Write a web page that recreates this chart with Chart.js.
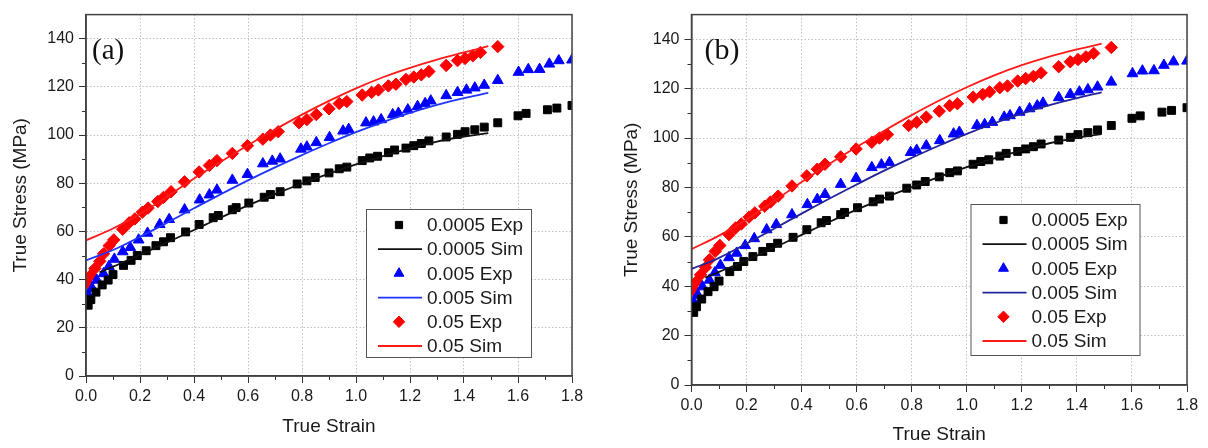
<!DOCTYPE html>
<html>
<head>
<meta charset="utf-8">
<script src="https://cdn.jsdelivr.net/npm/chart.js@4.4.0/dist/chart.umd.min.js"></script>
<style>
  body { margin: 0; background: #fff; }
  canvas { position: absolute; top: 0; }
  #chartA { left: 0; }
  #chartB { left: 604px; }
</style>
</head>
<body>
<canvas id="chartA" width="600" height="448"></canvas>
<canvas id="chartB" width="604" height="448"></canvas>
<script>
// Experimental points (same test data in both panels)
const strain0005Exp = [0.008, 0.018, 0.037, 0.06, 0.082, 0.10, 0.139, 0.167, 0.19, 0.223, 0.259, 0.287, 0.313, 0.369, 0.419, 0.471, 0.49, 0.542, 0.556, 0.603, 0.66, 0.683, 0.719, 0.782, 0.818, 0.849, 0.9, 0.938, 0.966, 1.023, 1.051, 1.08, 1.12, 1.143, 1.185, 1.214, 1.242, 1.27, 1.334, 1.376, 1.404, 1.44, 1.475, 1.525, 1.6, 1.63, 1.709, 1.744, 1.8];
const stress0005Exp = [29.4, 31.7, 34.8, 37.8, 39.8, 42.1, 45.9, 48, 50, 52, 54.1, 55.7, 57.4, 59.8, 62.9, 65.7, 66.6, 69, 69.9, 71.8, 74.2, 75.3, 76.5, 79.7, 81, 82.4, 84.3, 86, 86.7, 89.4, 90.5, 91.2, 92.7, 93.8, 94.6, 95.6, 96.5, 97.6, 99.2, 100.3, 101.4, 102.2, 103.3, 105.1, 108, 109, 110.5, 111.2, 112.3];

const strain005Exp = [0.008, 0.023, 0.04, 0.065, 0.085, 0.105, 0.136, 0.164, 0.195, 0.228, 0.273, 0.308, 0.365, 0.421, 0.457, 0.485, 0.542, 0.598, 0.655, 0.69, 0.719, 0.796, 0.818, 0.853, 0.902, 0.952, 0.973, 1.037, 1.065, 1.093, 1.136, 1.157, 1.192, 1.228, 1.256, 1.277, 1.334, 1.376, 1.409, 1.44, 1.475, 1.525, 1.602, 1.638, 1.68, 1.716, 1.751, 1.8];
const stress005Exp = [33.7, 36.4, 39.8, 42.5, 45.5, 48.5, 51.6, 53.4, 56.5, 59.3, 62.9, 65, 69, 73.1, 75.2, 77.2, 81.3, 83.7, 88.1, 89.2, 90.1, 94.2, 95.1, 96.9, 99, 101.7, 102.4, 105.1, 105.5, 106.4, 108.5, 109.1, 110.5, 111.9, 113.1, 114.2, 116.4, 117.7, 118.7, 119.6, 120.7, 122.7, 126.1, 127.2, 127.3, 129.5, 130.9, 131.2];

const strain05Exp = [0.008, 0.018, 0.033, 0.051, 0.065, 0.086, 0.103, 0.136, 0.16, 0.181, 0.209, 0.23, 0.266, 0.287, 0.315, 0.365, 0.419, 0.457, 0.485, 0.542, 0.598, 0.655, 0.683, 0.712, 0.789, 0.818, 0.853, 0.9, 0.938, 0.966, 1.023, 1.058, 1.083, 1.12, 1.148, 1.185, 1.214, 1.242, 1.27, 1.334, 1.376, 1.404, 1.433, 1.461, 1.525];
const stress05Exp = [38.5, 41.9, 44.6, 47.6, 50.7, 54.1, 56.5, 60.9, 63.6, 65.2, 68, 69.7, 72.4, 74.1, 76.5, 80.6, 84.7, 87.4, 89.4, 92.4, 95.6, 98.3, 100, 101.4, 105.1, 106.4, 108.5, 110.9, 113.1, 113.9, 116.6, 117.7, 118.7, 120.4, 121.1, 123.1, 124.1, 125, 126.4, 128.9, 130.9, 131.8, 132.9, 134.3, 136.7];

// Simulated curves
const simStrain = [0, 0.1, 0.2, 0.3, 0.4, 0.5, 0.6, 0.7, 0.8, 0.9, 1.0, 1.1, 1.2, 1.3, 1.4, 1.49];
const simStrain0005 = [0.05, 0.1, 0.2, 0.3, 0.4, 0.5, 0.6, 0.7, 0.8, 0.9, 1.0, 1.1, 1.2, 1.3, 1.4, 1.49];

const simA0005 = [43, 45.4, 50.3, 55.4, 60.6, 65.8, 70.8, 75.5, 79.9, 84, 87.8, 91.3, 94.5, 97.3, 99.4, 100.8];
const simA005 = [48, 52.3, 57.8, 63.6, 69.6, 75.5, 81.2, 86.6, 91.7, 96.6, 101.2, 105.4, 109.2, 112.5, 115.3, 117.5];
const simA05 = [56.3, 61.2, 67.3, 74.4, 82, 89, 95.8, 102.3, 108.5, 114.2, 119.4, 124, 127.9, 131.3, 134.3, 136.9];

const simB0005 = [43.5, 45.8, 50.5, 55.6, 60.8, 66, 71, 75.7, 80.1, 84.3, 88.2, 91.8, 95, 97.9, 100.1, 101.6];
const simB005 = [47, 51.5, 57.3, 63.3, 69.4, 75.4, 81.2, 86.8, 92, 97, 101.7, 106, 109.9, 113.3, 116.2, 118.5];
const simB05 = [55, 60.5, 67, 74.5, 82.2, 89.5, 96.4, 103, 109.3, 115.2, 120.6, 125.4, 129.5, 133, 135.9, 138.2];

// Axis ticks
const xTicks = [0, 0.2, 0.4, 0.6, 0.8, 1.0, 1.2, 1.4, 1.6, 1.8];
const xMinor = [0.1, 0.3, 0.5, 0.7, 0.9, 1.1, 1.3, 1.5, 1.7];
const yTicks = [0, 20, 40, 60, 80, 100, 120, 140];
const yMinor = [10, 30, 50, 70, 90, 110, 130];

const FONT = '"Liberation Sans", Arial, sans-serif';
const TEXT = '#1a1a1a';

function pts(xs, ys) {
    return xs.map((x, i) => ({ x: x, y: ys[i] }));
}

// minor ticks, frame, panel tag and legend
const decorPlugin = {
    id: 'decor',
    afterDraw(chart, args, opts) {
        const { ctx, chartArea: ca, scales: { x, y } } = chart;
        ctx.save();
        ctx.strokeStyle = '#333';
        ctx.lineWidth = 1;
        ctx.beginPath();
        xMinor.forEach(v => {
            const px = Math.round(x.getPixelForValue(v)) + 0.5;
            ctx.moveTo(px, ca.bottom);
            ctx.lineTo(px, ca.bottom + 4);
        });
        yMinor.forEach(v => {
            const py = Math.round(y.getPixelForValue(v)) + 0.5;
            ctx.moveTo(ca.left, py);
            ctx.lineTo(ca.left - 4, py);
        });
        ctx.stroke();

        ctx.strokeStyle = '#444';
        ctx.lineWidth = 1.5;
        ctx.strokeRect(ca.left, ca.top, ca.width, ca.height);

        // (a) / (b)
        ctx.fillStyle = '#111';
        ctx.font = opts.tagSize + 'px "Liberation Serif", "Times New Roman", serif';
        ctx.textBaseline = 'middle';
        ctx.textAlign = 'left';
        ctx.fillText(opts.tag, ca.left + opts.tagDx, opts.tagY);

        // legend box
        const bx = ca.left + opts.legendDx, by = opts.legendY;
        ctx.fillStyle = '#fff';
        ctx.fillRect(bx, by, opts.legendW, opts.legendH);
        ctx.strokeStyle = '#555';
        ctx.lineWidth = 1;
        ctx.strokeRect(bx + 0.5, by + 0.5, opts.legendW, opts.legendH);
        ctx.font = '19px ' + FONT;
        chart.data.datasets.forEach((ds, i) => {
            const cy = by + 16 + i * 24.2;
            if (ds.showLine) {
                ctx.strokeStyle = ds.borderColor;
                ctx.lineWidth = ds.borderWidth;
                ctx.beginPath();
                ctx.moveTo(bx + 12, cy);
                ctx.lineTo(bx + 56, cy);
                ctx.stroke();
            } else {
                ctx.fillStyle = ds.backgroundColor;
                ctx.strokeStyle = ds.borderColor;
                ctx.lineWidth = 1;
                Chart.helpers.drawPoint(ctx, {
                    pointStyle: ds.pointStyle,
                    radius: ds.pointRadius - 0.5,
                    borderWidth: 1,
                    rotation: 0
                }, bx + 33, cy);
            }
            ctx.fillStyle = TEXT;
            ctx.fillText(ds.label, bx + 61, cy + 1);
        });
        ctx.restore();
    }
};

function buildChart(id, sims, simBlue, lay) {
    const ctx = document.getElementById(id).getContext('2d');
    return new Chart(ctx, {
        type: 'scatter',
        data: {
            datasets: [
                {
                    label: '0.0005 Exp',
                    data: pts(strain0005Exp, stress0005Exp),
                    pointStyle: 'rect', pointRadius: 5.6,
                    backgroundColor: '#000', borderColor: '#000', borderWidth: 1,
                    order: 4
                },
                {
                    label: '0.0005 Sim',
                    data: pts(simStrain0005, sims[0]),
                    showLine: true, pointRadius: 0, tension: 0.4,
                    borderColor: '#111', borderWidth: 1.8,
                    order: 1
                },
                {
                    label: '0.005 Exp',
                    data: pts(strain005Exp, stress005Exp),
                    pointStyle: 'triangle', pointRadius: 6.2,
                    backgroundColor: '#0000ff', borderColor: '#0000ff', borderWidth: 1,
                    order: 5
                },
                {
                    label: '0.005 Sim',
                    data: pts(simStrain, sims[1]),
                    showLine: true, pointRadius: 0, tension: 0.4,
                    borderColor: simBlue, borderWidth: 1.8,
                    order: 2
                },
                {
                    label: '0.05 Exp',
                    data: pts(strain05Exp, stress05Exp),
                    pointStyle: 'rectRot', pointRadius: 6.2,
                    backgroundColor: '#ff0000', borderColor: '#ff0000', borderWidth: 1,
                    order: 6
                },
                {
                    label: '0.05 Sim',
                    data: pts(simStrain, sims[2]),
                    showLine: true, pointRadius: 0, tension: 0.4,
                    borderColor: '#ff1a1a', borderWidth: 1.8,
                    order: 3
                }
            ]
        },
        options: {
            responsive: false,
            animation: false,
            layout: { padding: { top: 8, right: lay.right, left: 0, bottom: 0 } },
            plugins: {
                legend: { display: false },
                tooltip: { enabled: false },
                decor: lay.decor
            },
            scales: {
                x: {
                    type: 'linear',
                    min: 0, max: 1.8,
                    afterBuildTicks: s => { s.ticks = xTicks.map(v => ({ value: v })); },
                    afterFit: s => { s.height = lay.xHeight; },
                    ticks: {
                        callback: v => v.toFixed(1),
                        color: TEXT, font: { family: FONT, size: 16 },
                        padding: 4, maxRotation: 0
                    },
                    grid: { color: '#c0c0c0', lineWidth: 1, tickLength: 7, tickColor: '#333' },
                    border: { color: '#333', width: 1.5, dash: [1.5, 2] },
                    title: {
                        display: true, text: 'True Strain', color: TEXT,
                        font: { family: FONT, size: 19 },
                        padding: { top: 0, bottom: lay.xTitlePad }
                    }
                },
                y: {
                    type: 'linear',
                    min: 0, max: 150,
                    afterBuildTicks: s => { s.ticks = yTicks.map(v => ({ value: v })); },
                    afterFit: s => { s.width = lay.yWidth; },
                    ticks: {
                        color: TEXT, font: { family: FONT, size: 16 },
                        padding: 5
                    },
                    grid: { color: '#c0c0c0', lineWidth: 1, tickLength: 7, tickColor: '#333' },
                    border: { color: '#333', width: 1.5, dash: [1.5, 2] },
                    title: {
                        display: true, text: 'True Stress (MPa)', color: TEXT,
                        font: { family: FONT, size: 19 },
                        padding: { top: lay.yTitlePad, bottom: 0 }
                    }
                }
            }
        },
        plugins: [decorPlugin]
    });
}

buildChart('chartA', [simA0005, simA005, simA05], '#1f35ff', {
    right: 28, xHeight: 72, yWidth: 86, xTitlePad: 9.6, yTitlePad: 9.6,
    decor: { tag: '(a)', tagSize: 29, tagDx: 6, tagY: 51,
             legendDx: 280, legendY: 209, legendW: 165, legendH: 148 }
});

buildChart('chartB', [simB0005, simB005, simB05], '#22229a', {
    right: 21, xHeight: 63, yWidth: 87.5, xTitlePad: 1.6, yTitlePad: 16,
    decor: { tag: '(b)', tagSize: 30, tagDx: 13, tagY: 51,
             legendDx: 279, legendY: 204, legendW: 169, legendH: 151 }
});
</script>
</body>
</html>
